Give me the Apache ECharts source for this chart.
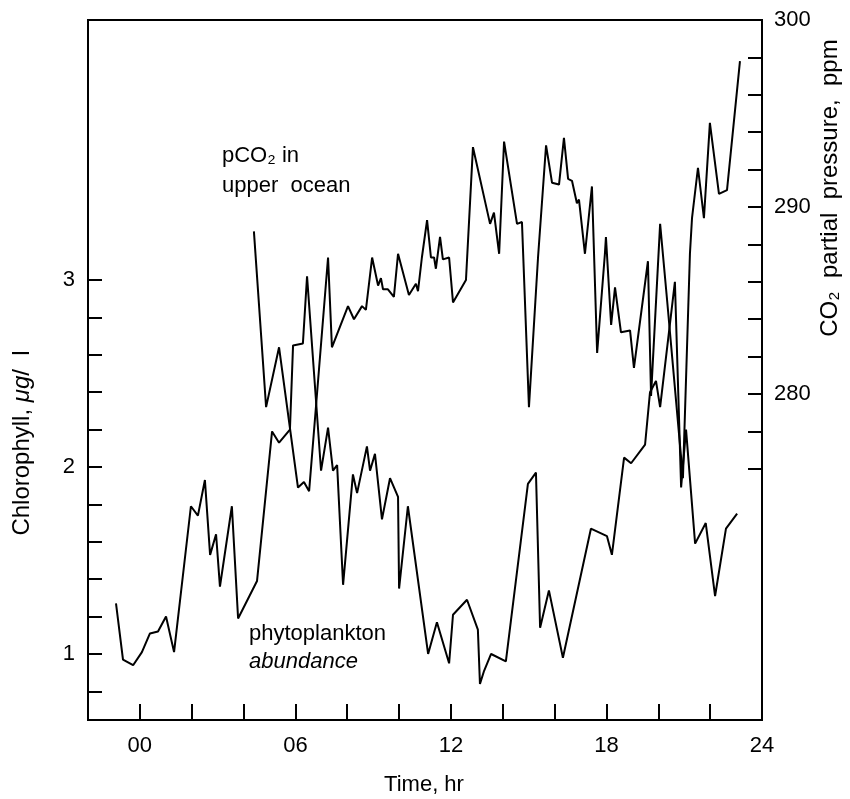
<!DOCTYPE html>
<html><head><meta charset="utf-8">
<script src="https://cdn.jsdelivr.net/npm/echarts@6/dist/echarts.min.js"></script>
<style>html,body{margin:0;padding:0;background:#fff}#c{width:850px;height:799px}</style>
</head><body><div id="c"></div>
<script>
// Phytoplankton abundance (chlorophyll, ug/l) vs time (hr)
const chlTime = [-0.92,-0.65,-0.26,0.08,0.39,0.70,1.01,1.32,1.97,2.24,2.51,2.71,2.94,3.09,3.55,3.79,4.52,5.10,5.37,5.79,5.91,6.29,6.45,6.99,7.26,7.45,7.61,7.84,8.22,8.38,8.76,8.88,9.07,9.34,9.65,9.96,10.00,10.34,11.12,11.46,11.93,12.08,12.62,13.04,13.12,13.28,13.55,14.12,14.97,15.28,15.44,15.78,16.32,17.40,18.02,18.21,18.68,18.95,19.49,19.68,19.91,20.07,20.64,20.88,21.07,21.42,21.83,22.19,22.61,23.04];
const chlValue = [1.27,0.97,0.94,1.01,1.11,1.12,1.20,1.01,1.79,1.74,1.93,1.53,1.64,1.36,1.79,1.19,1.39,2.19,2.13,2.20,2.65,2.66,3.02,1.98,2.21,1.98,2.01,1.37,1.96,1.86,2.11,1.98,2.07,1.72,1.94,1.84,1.35,1.79,1.00,1.17,0.95,1.21,1.29,1.13,0.84,0.91,1.00,0.96,1.91,1.97,1.14,1.34,0.98,1.67,1.63,1.53,2.05,2.02,2.12,2.40,2.46,2.32,2.99,1.89,2.20,1.59,1.70,1.31,1.67,1.75];
// pCO2 in upper ocean (ppm) vs time (hr)
const co2Time = [4.40,4.87,5.37,6.10,6.33,6.53,7.26,7.41,8.03,8.26,8.57,8.72,8.96,9.19,9.30,9.38,9.57,9.80,9.96,10.38,10.65,10.73,10.88,11.08,11.23,11.35,11.42,11.58,11.69,11.93,12.08,12.58,12.85,13.51,13.66,13.86,14.05,14.55,14.74,15.01,15.36,15.67,15.90,16.17,16.36,16.52,16.67,16.86,16.94,17.17,17.44,17.64,17.94,17.98,18.18,18.33,18.56,18.91,19.06,19.60,19.72,20.07,20.34,20.95,21.22,21.30,21.53,21.76,21.99,22.34,22.65,23.15];
const co2Value = [288.7,279.3,282.5,275.0,275.3,274.8,287.3,282.5,284.7,284.0,284.7,284.5,287.3,285.8,286.2,285.6,285.6,285.2,287.5,285.3,285.9,285.5,287.3,289.3,287.3,287.3,286.7,288.4,287.2,287.3,284.9,286.1,293.2,289.1,289.7,287.5,293.5,289.1,289.2,279.3,287.3,293.3,291.3,291.2,293.7,291.5,291.4,290.2,290.4,287.5,291.1,282.2,287.5,288.4,283.7,285.7,283.3,283.4,281.4,287.1,279.9,289.1,285.0,275.5,287.5,289.4,292.1,289.4,294.5,290.7,290.9,297.8];

const timeLabelValues = [0, 6, 12, 18, 24];
const chlTickValues = [0.8,1.0,1.2,1.4,1.6,1.8,2.0,2.2,2.4,2.6,2.8,3.0];
const chlLabelValues = [1, 2, 3];
const co2TickValues = [276,278,280,282,284,286,288,290,292,294,296,298,300];
const co2LabelValues = [280, 290, 300];

const zip = (a, b) => a.map((v, i) => [v, b[i]]);
const black = '#000';
const font = 'Liberation Sans';

const chart = echarts.init(document.getElementById('c'), null, {renderer: 'canvas'});
chart.setOption({
  animation: false,
  backgroundColor: '#fff',
  grid: {left: 88, right: 88, top: 20, bottom: 79, show: true, borderColor: black, borderWidth: 2, backgroundColor: 'transparent'},
  xAxis: {
    type: 'value', min: -2, max: 24, interval: 2,
    axisLine: {onZero: false, lineStyle: {color: black, width: 2}},
    axisTick: {inside: true, length: 16, lineStyle: {color: black, width: 2}},
    axisLabel: {customValues: timeLabelValues, formatter: v => String(v).padStart(2, '0'), color: black, fontSize: 22, fontFamily: font, margin: 15},
    splitLine: {show: false}
  },
  yAxis: [{
    type: 'value', position: 'left', min: 0.647, max: 4.39,
    axisLine: {show: true, onZero: false, lineStyle: {color: black, width: 2}},
    axisTick: {show: true, customValues: chlTickValues, inside: true, length: 14, lineStyle: {color: black, width: 2}},
    axisLabel: {customValues: chlLabelValues, color: black, fontSize: 22, fontFamily: font, margin: 13},
    splitLine: {show: false}
  }, {
    type: 'value', position: 'right', min: 262.57, max: 300,
    axisLine: {show: true, onZero: false, lineStyle: {color: black, width: 2}},
    axisTick: {show: true, customValues: co2TickValues, inside: true, length: 14, lineStyle: {color: black, width: 2}},
    axisLabel: {customValues: co2LabelValues, color: black, fontSize: 22, fontFamily: font, margin: 12},
    splitLine: {show: false}
  }],
  series: [{
    name: 'phytoplankton abundance', type: 'line', yAxisIndex: 0, data: zip(chlTime, chlValue),
    showSymbol: false, lineStyle: {color: black, width: 2}, z: 3
  }, {
    name: 'pCO2 in upper ocean', type: 'line', yAxisIndex: 1, data: zip(co2Time, co2Value),
    showSymbol: false, lineStyle: {color: black, width: 2}, z: 3
  }],
  graphic: [
    {type: 'text', left: 222, top: 145, style: {text: 'pCO₂ in', font: '22px ' + font, fill: black}},
    {type: 'text', left: 222, top: 175, style: {text: 'upper  ocean', font: '22px ' + font, fill: black}},
    {type: 'text', left: 249, top: 623, style: {text: 'phytoplankton', font: '22px ' + font, fill: black}},
    {type: 'text', left: 249, top: 651, style: {text: 'abundance', font: 'italic 22px ' + font, fill: black}},
    {type: 'text', x: 424, y: 785, style: {text: 'Time, hr', font: '22px ' + font, fill: black, align: 'center', verticalAlign: 'middle'}},
    {type: 'text', x: 22, y: 443, rotation: Math.PI / 2, style: {
      text: '{n|Chlorophyll,}  {i|μg}{n|/  l}', align: 'center', verticalAlign: 'middle',
      rich: {n: {font: '24px ' + font, fill: black}, i: {font: 'italic 24px ' + font, fill: black}}}},
    {type: 'text', x: 830, y: 188, rotation: Math.PI / 2, style: {
      text: 'CO₂  partial  pressure,  ppm', font: '24px ' + font, fill: black, align: 'center', verticalAlign: 'middle'}}
  ]
});
</script></body></html>
